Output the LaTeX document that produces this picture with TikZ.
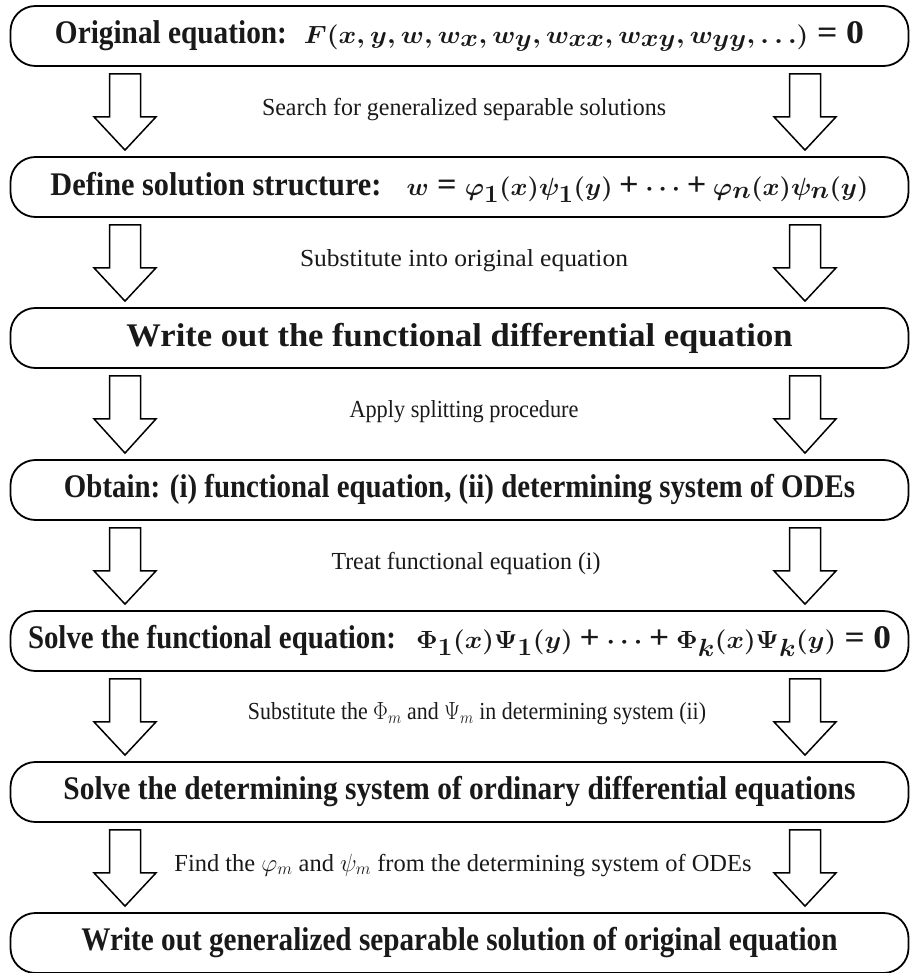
\documentclass[tikz,border=0pt]{standalone}
\usepackage[no-math]{fontspec}
\setmainfont{Liberation Serif}
\usetikzlibrary{calc}
\newcommand\fitto[2]{\resizebox{#1}{\height}{#2}}
\newcommand\beq{\mathrel{\textbf{=}}}
\newcommand\bplus{\mathbin{\textbf{+}}}
\newcommand\flowarrow[3]{%
  \draw[blk] let \p1=(#1.south), \p2=(#2.north) in
    ({#3pt-15.5pt},{\y1-7pt}) -- ({#3pt+15.5pt},{\y1-7pt}) -- ({#3pt+15.5pt},{\y1-50pt})
    -- ({#3pt+31pt},{\y1-50pt}) -- ({#3pt},{\y2+6pt}) -- ({#3pt-31pt},{\y1-50pt})
    -- ({#3pt-15.5pt},{\y1-50pt}) -- cycle;}
\begin{document}
\begin{tikzpicture}[x=1pt,y=-1pt,
  box/.style={draw, line width=1.8pt, rounded corners=25pt, minimum width=898pt,
    minimum height=60pt, inner sep=0pt, text=black!90,
    font=\fontsize{33}{35}\selectfont\bfseries},
  lab/.style={font=\fontsize{24.5}{27}\selectfont, inner sep=0pt, text=black!90},
  blk/.style={draw, line width=1.5pt, fill=white, line join=miter}]
\useasboundingbox (0,0) rectangle (911,973);
\node[box] (b1) at (459.5,36) {\fitto{232pt}{Original equation:}\hspace{17pt}\fitto{560pt}{\boldmath$F(x,y,w,w_x,w_y,w_{xx},w_{xy},w_{yy},\ldots)\beq\textbf{0}$}};
\node[box] (b2) at (459.5,187) {\fitto{331pt}{Define solution structure:}\hspace{25pt}\fitto{462pt}{\boldmath$w\beq\varphi_1(x)\psi_1(y)\bplus\cdots\bplus\varphi_n(x)\psi_n(y)$}};
\node[box] (b3) at (459.5,338) {\fitto{666pt}{Write out the functional differential equation}};
\node[box] (b4) at (459.5,490) {\fitto{791pt}{Obtain: (i) functional equation, (ii) determining system of ODEs}};
\node[box] (b5) at (459.5,641) {\fitto{368pt}{Solve the functional equation:}\hspace{20pt}\fitto{475pt}{\boldmath$\Phi_1(x)\Psi_1(y)\bplus\cdots\bplus\Phi_k(x)\Psi_k(y)\beq\textbf{0}$}};
\node[box] (b6) at (459.5,792) {\fitto{792pt}{Solve the determining system of ordinary differential equations}};
\node[box] (b7) at (459.5,943) {\fitto{756pt}{Write out generalized separable solution of original equation}};
\node[lab] (l1) at (464,110) {\fitto{404pt}{Search for generalized separable solutions}};
\node[lab] (l2) at (464,261) {\fitto{328pt}{Substitute into original equation}};
\node[lab] (l3) at (464,412) {\fitto{229pt}{Apply splitting procedure}};
\node[lab] (l4) at (466,563) {\fitto{269pt}{Treat functional equation (i)}};
\node[lab] (l5) at (477,714) {\fitto{458pt}{Substitute the $\Phi_m$ and $\Psi_m$ in determining system (ii)}};
\node[lab] (l6) at (463,865) {\fitto{577pt}{Find the $\varphi_m$ and $\psi_m$ from the determining system of ODEs}};
\foreach \a/\b in {b1/b2,b2/b3,b3/b4,b4/b5,b5/b6,b6/b7}{
  \flowarrow{\a}{\b}{125}
  \flowarrow{\a}{\b}{805}
}
\end{tikzpicture}
\end{document}
